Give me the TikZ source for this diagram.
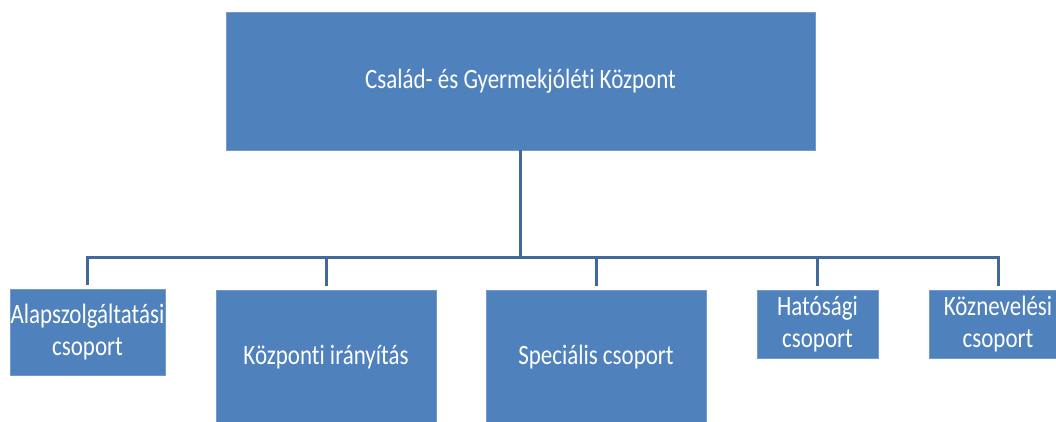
\documentclass[tikz,border=0pt]{standalone}
\usepackage{fontspec}
\setmainfont{Carlito}[FakeStretch=0.82,RawFeature=-liga]
\definecolor{boxblue}{HTML}{4F81BD}
\definecolor{lineblue}{HTML}{41699C}
\begin{document}
\begin{tikzpicture}[x=1pt,y=-1pt,
  box/.style={rectangle,fill=boxblue,draw=boxblue!80!white,line width=0.6pt,inner sep=0pt,
    text=white,align=center,font=\fontsize{28}{32}\selectfont},
  conn/.style={draw=lineblue,line width=3pt}]
\useasboundingbox (0,0) rectangle (1056,421);
\clip (0,0) rectangle (1056,421);
\node[box,minimum width=589pt,minimum height=138pt] (top) at (520.5,81) {Család- és Gyermekjóléti Központ};
\node[box,minimum width=155pt,minimum height=86pt] (b1) at (87.5,332) {Alapszolgáltatási\\csoport};
\node[box,minimum width=220pt,minimum height=134pt] (b2) at (326,357) {Központi irányítás};
\node[box,minimum width=220pt,minimum height=134pt] (b3) at (596,357) {Speciális csoport};
\node[box,minimum width=121pt,minimum height=68pt] (b4) at (817.5,324) {Hatósági\\csoport};
\node[box,minimum width=138pt,minimum height=68pt] (b5) at (998,324) {Köznevelési\\csoport};
\coordinate (bus) at (520.5,257);
\draw[conn] (top.south) -- (bus);
\foreach \b in {b1,b2,b3,b4,b5}{
  \draw[conn,shorten >=4pt] (bus) -| (\b.north);
}
\end{tikzpicture}
\end{document}
